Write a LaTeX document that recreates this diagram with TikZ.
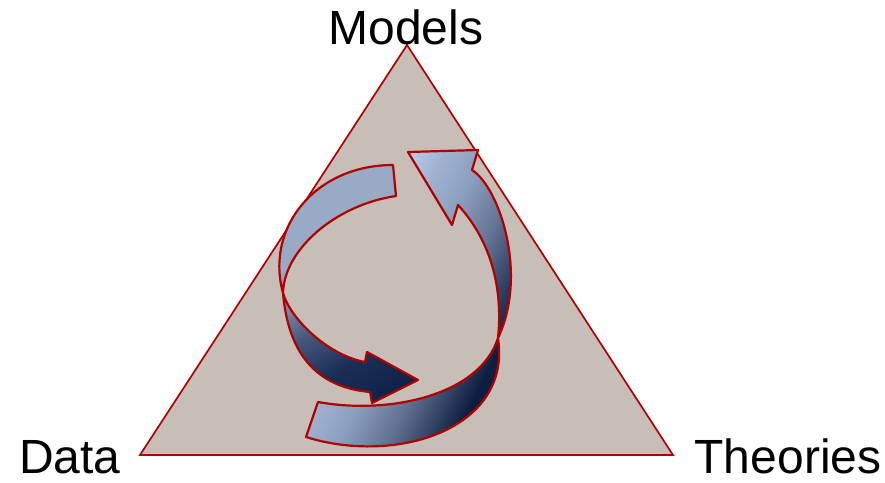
\documentclass[tikz,border=0pt]{standalone}
\usepackage{fontspec}
\setmainfont{Liberation Sans}
\definecolor{trifill}{HTML}{C8BEB8}
\definecolor{redline}{HTML}{B00000}
% left arrow ramp
\definecolor{a0}{HTML}{98AAC4}
\definecolor{a1}{HTML}{8696B4}
\definecolor{a2}{HTML}{48587C}
\definecolor{a3}{HTML}{1A2E58}
\definecolor{a4}{HTML}{0E2248}
% right arrow ramp
\definecolor{b0}{HTML}{BCD0F2}
\definecolor{b1}{HTML}{A0B2D0}
\definecolor{b2}{HTML}{8C9EBE}
\definecolor{b3}{HTML}{5E6E8E}
\definecolor{b4}{HTML}{2C3C5E}
\definecolor{b5}{HTML}{0E1E40}
\def\arrowApath{(393,165)
  .. controls (315,165) and (265,228) .. (283,293)
  .. controls (290,318) and (327,355) .. (365,362)
  -- (367,352) -- (418,380) -- (372,403) -- (370,392)
  .. controls (315,387) and (288,352) .. (283,293)
  .. controls (284,250) and (335,205) .. (396,196)
  -- cycle}
\def\arrowBpath{(306,437)
  .. controls (395,465) and (512,430) .. (498,338)
  .. controls (503,290) and (492,242) .. (458,205)
  -- (452,225) -- (408,152) -- (478,150) -- (472,170)
  .. controls (500,188) and (528,275) .. (498,338)
  .. controls (480,395) and (390,415) .. (318,402)
  -- cycle}
\begin{document}
\begin{tikzpicture}[x=1pt,y=-1pt,
  lbl/.style={font=\fontsize{48}{56}\selectfont, inner sep=0pt, anchor=base},
  tri/.style={fill=trifill, draw=redline, line width=1.7pt, line join=miter},
  outline/.style={draw=redline, line width=2.2pt, line join=round},
  band/.style 2 args={top color=#1, bottom color=#2},
]
\useasboundingbox (0,0) rectangle (885,482);
\coordinate (top) at (407,45);
\coordinate (bl) at (140,455);
\coordinate (br) at (673,455);
\path[tri] (top) -- (bl) -- (br) -- cycle;
\node[lbl] (models) at (406,44) {Models};
\node[lbl] (data) at (70,473) {Data};
\node[lbl] (theories) at (788,473) {Theories};
% left arrow
\begin{scope}
  \clip \arrowApath;
  \begin{scope}[transform canvas={rotate around={30:(350,285)}}]
    \fill[a0] (100,-20) rectangle (600,238.5);
    \shade[band={a0}{a1}] (100,238) rectangle (600,263.5);
    \shade[band={a1}{a2}] (100,263) rectangle (600,308.5);
    \shade[band={a2}{a3}] (100,308) rectangle (600,353.5);
    \shade[band={a3}{a4}] (100,353) rectangle (600,403.5);
    \fill[a4] (100,403) rectangle (600,620);
  \end{scope}
\end{scope}
\path[outline] \arrowApath;
% right arrow
\begin{scope}
  \clip \arrowBpath;
  \begin{scope}[transform canvas={rotate around={63.4:(420,300)}}]
    \fill[b0] (100,-40) rectangle (740,220.5);
    \shade[band={b0}{b1}] (100,220) rectangle (740,255.5);
    \shade[band={b1}{b2}] (100,255) rectangle (740,292.5);
    \shade[band={b2}{b3}] (100,292) rectangle (740,338.5);
    \shade[band={b3}{b4}] (100,338) rectangle (740,372.5);
    \shade[band={b4}{b5}] (100,372) rectangle (740,392.5);
    \fill[b5] (100,392) rectangle (740,700);
  \end{scope}
\end{scope}
\path[outline] \arrowBpath;
\end{tikzpicture}
\end{document}
